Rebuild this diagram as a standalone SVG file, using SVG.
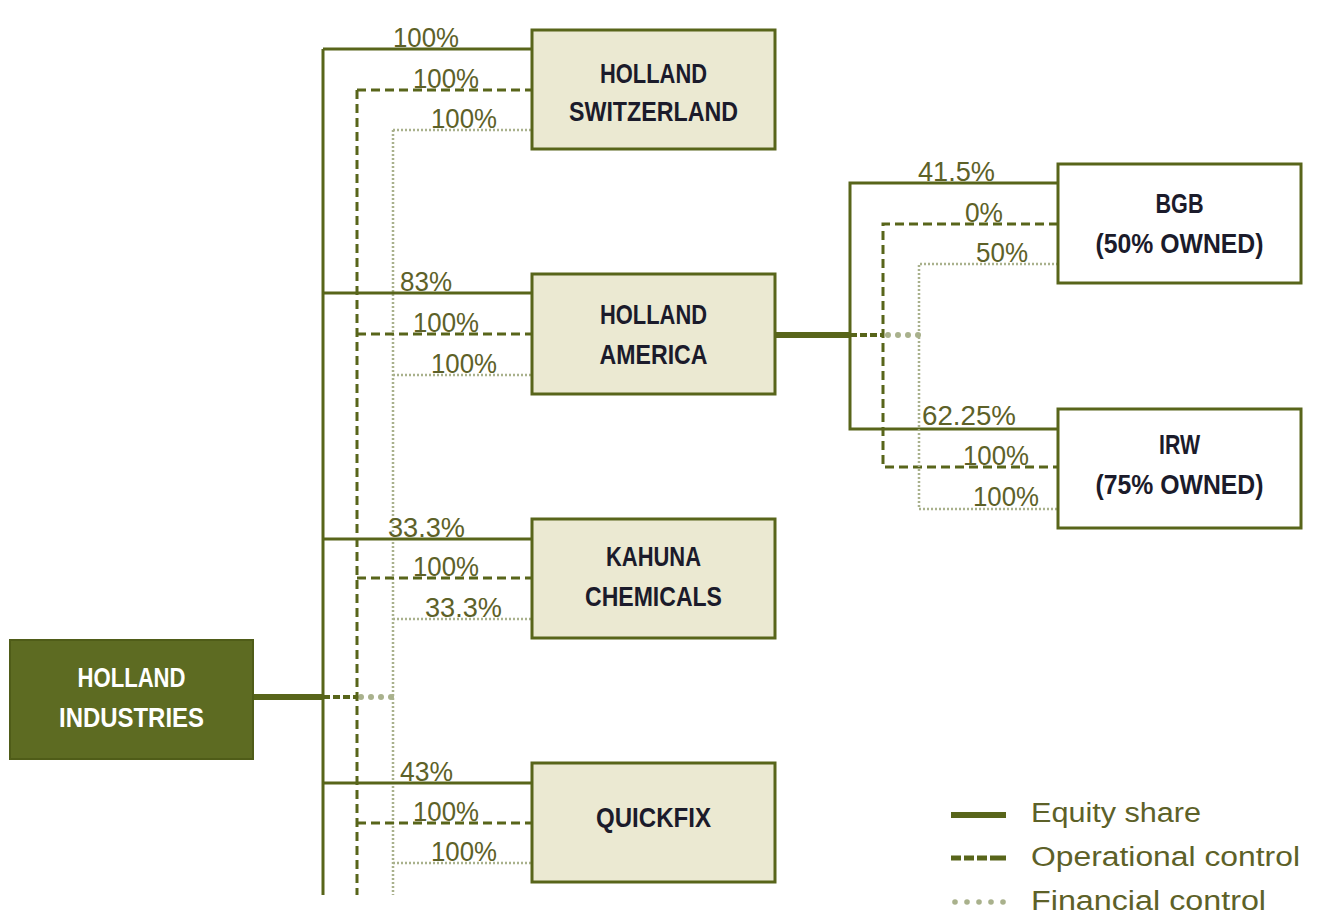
<svg xmlns="http://www.w3.org/2000/svg" width="1322" height="917" viewBox="0 0 1322 917">
<style>
.box{fill:#ebe9d2;stroke:#58651a;stroke-width:3}
.wbox{fill:#ffffff;stroke:#58651a;stroke-width:3}
.hi{fill:#5d6b22;stroke:#4f5c18;stroke-width:2}
.eq{fill:none;stroke:#58651a;stroke-width:3}
.op{fill:none;stroke:#58651a;stroke-width:3;stroke-dasharray:9 5}
.fin{fill:none;stroke:#a9b18c;stroke-width:2.5;stroke-dasharray:2 2}
.thick{fill:none;stroke:#58651a;stroke-width:6}
.thickop{fill:none;stroke:#58651a;stroke-width:4;stroke-dasharray:7 3}
.dot{fill:#a9b18c}
.nt{font-family:"Liberation Sans",Arial,sans-serif;font-weight:bold;font-size:28px;fill:#1b1b2b;text-anchor:middle}
.nw{font-family:"Liberation Sans",Arial,sans-serif;font-weight:bold;font-size:28px;fill:#ffffff;text-anchor:middle}
.pc{font-family:"Liberation Sans",Arial,sans-serif;font-size:27px;fill:#5d6128}
.lg{font-family:"Liberation Sans",Arial,sans-serif;font-size:27px;fill:#5d6128}
</style>
<rect x="0" y="0" width="1322" height="917" fill="#ffffff"/>

<g id="connectors">
  <!-- from Holland Industries -->
  <line class="thick" x1="254" y1="697" x2="323" y2="697"/>
  <line class="thickop" x1="323" y1="697" x2="357" y2="697"/>
  <circle class="dot" cx="361" cy="697" r="3"/>
  <circle class="dot" cx="371" cy="697" r="3"/>
  <circle class="dot" cx="381" cy="697" r="3"/>
  <circle class="dot" cx="391" cy="697" r="3"/>
  <line class="eq" x1="323" y1="49" x2="323" y2="895"/>
  <line class="op" x1="357" y1="90" x2="357" y2="895"/>
  <line class="fin" x1="393" y1="130" x2="393" y2="895"/>
  <!-- Holland Switzerland -->
  <polyline class="eq" points="323,49 532,49"/>
  <polyline class="op" points="357,90 532,90"/>
  <polyline class="fin" points="393,130 532,130"/>
  <!-- Holland America -->
  <polyline class="eq" points="323,293 532,293"/>
  <polyline class="op" points="357,334 532,334"/>
  <polyline class="fin" points="393,375 532,375"/>
  <!-- Kahuna Chemicals -->
  <polyline class="eq" points="323,539 532,539"/>
  <polyline class="op" points="357,578 532,578"/>
  <polyline class="fin" points="393,619 532,619"/>
  <!-- Quickfix -->
  <polyline class="eq" points="323,783 532,783"/>
  <polyline class="op" points="357,823 532,823"/>
  <polyline class="fin" points="393,863 532,863"/>

  <!-- from Holland America -->
  <line class="thick" x1="775" y1="335" x2="850" y2="335"/>
  <line class="thickop" x1="850" y1="335" x2="883" y2="335"/>
  <circle class="dot" cx="888" cy="335" r="3"/>
  <circle class="dot" cx="898" cy="335" r="3"/>
  <circle class="dot" cx="908" cy="335" r="3"/>
  <circle class="dot" cx="918" cy="335" r="3"/>
  <polyline class="eq" points="1058,183 850,183 850,429 1058,429"/>
  <polyline class="op" points="1058,224 883,224 883,467 1058,467"/>
  <polyline class="fin" points="1058,264 919,264 919,509 1058,509"/>

  <!-- percentage labels -->
  <text class="pc" x="393" y="47" textLength="66" lengthAdjust="spacingAndGlyphs">100%</text>
  <text class="pc" x="413" y="88" textLength="66" lengthAdjust="spacingAndGlyphs">100%</text>
  <text class="pc" x="431" y="128" textLength="66" lengthAdjust="spacingAndGlyphs">100%</text>

  <text class="pc" x="400" y="291" textLength="52" lengthAdjust="spacingAndGlyphs">83%</text>
  <text class="pc" x="413" y="332" textLength="66" lengthAdjust="spacingAndGlyphs">100%</text>
  <text class="pc" x="431" y="373" textLength="66" lengthAdjust="spacingAndGlyphs">100%</text>

  <text class="pc" x="388" y="537" textLength="77" lengthAdjust="spacingAndGlyphs">33.3%</text>
  <text class="pc" x="413" y="576" textLength="66" lengthAdjust="spacingAndGlyphs">100%</text>
  <text class="pc" x="425" y="617" textLength="77" lengthAdjust="spacingAndGlyphs">33.3%</text>

  <text class="pc" x="400" y="781" textLength="53" lengthAdjust="spacingAndGlyphs">43%</text>
  <text class="pc" x="413" y="821" textLength="66" lengthAdjust="spacingAndGlyphs">100%</text>
  <text class="pc" x="431" y="861" textLength="66" lengthAdjust="spacingAndGlyphs">100%</text>

  <text class="pc" x="918" y="181" textLength="77" lengthAdjust="spacingAndGlyphs">41.5%</text>
  <text class="pc" x="965" y="222" textLength="38" lengthAdjust="spacingAndGlyphs">0%</text>
  <text class="pc" x="976" y="262" textLength="52" lengthAdjust="spacingAndGlyphs">50%</text>

  <text class="pc" x="922" y="425" textLength="94" lengthAdjust="spacingAndGlyphs">62.25%</text>
  <text class="pc" x="963" y="465" textLength="66" lengthAdjust="spacingAndGlyphs">100%</text>
  <text class="pc" x="973" y="506" textLength="66" lengthAdjust="spacingAndGlyphs">100%</text>
</g>

<g id="holland-industries">
  <rect class="hi" x="10" y="640" width="243" height="119"/>
  <text class="nw" x="131.5" y="687" textLength="108" lengthAdjust="spacingAndGlyphs">HOLLAND</text>
  <text class="nw" x="131.5" y="727" textLength="145" lengthAdjust="spacingAndGlyphs">INDUSTRIES</text>
</g>

<g id="holland-switzerland">
  <rect class="box" x="532" y="30" width="243" height="119"/>
  <text class="nt" x="653.5" y="83" textLength="107" lengthAdjust="spacingAndGlyphs">HOLLAND</text>
  <text class="nt" x="653.5" y="121" textLength="169" lengthAdjust="spacingAndGlyphs">SWITZERLAND</text>
</g>

<g id="holland-america">
  <rect class="box" x="532" y="274" width="243" height="120"/>
  <text class="nt" x="653.5" y="324" textLength="107" lengthAdjust="spacingAndGlyphs">HOLLAND</text>
  <text class="nt" x="653.5" y="364" textLength="108" lengthAdjust="spacingAndGlyphs">AMERICA</text>
</g>

<g id="kahuna-chemicals">
  <rect class="box" x="532" y="519" width="243" height="119"/>
  <text class="nt" x="653.5" y="566" textLength="95" lengthAdjust="spacingAndGlyphs">KAHUNA</text>
  <text class="nt" x="653.5" y="606" textLength="137" lengthAdjust="spacingAndGlyphs">CHEMICALS</text>
</g>

<g id="quickfix">
  <rect class="box" x="532" y="763" width="243" height="119"/>
  <text class="nt" x="653.5" y="827" textLength="115" lengthAdjust="spacingAndGlyphs">QUICKFIX</text>
</g>

<g id="bgb">
  <rect class="wbox" x="1058" y="164" width="243" height="119"/>
  <text class="nt" x="1179.5" y="213" textLength="48" lengthAdjust="spacingAndGlyphs">BGB</text>
  <text class="nt" x="1179.5" y="253" textLength="168" lengthAdjust="spacingAndGlyphs">(50% OWNED)</text>
</g>

<g id="irw">
  <rect class="wbox" x="1058" y="409" width="243" height="119"/>
  <text class="nt" x="1179.5" y="454" textLength="41" lengthAdjust="spacingAndGlyphs">IRW</text>
  <text class="nt" x="1179.5" y="494" textLength="168" lengthAdjust="spacingAndGlyphs">(75% OWNED)</text>
</g>

<g id="legend">
  <line x1="951" y1="815" x2="1006" y2="815" stroke="#58651a" stroke-width="6"/>
  <line x1="951" y1="858" x2="1006" y2="858" stroke="#58651a" stroke-width="5" stroke-dasharray="10 3 10 3 10 3 16 0"/>
  <circle class="dot" cx="955" cy="902" r="2.8"/>
  <circle class="dot" cx="967" cy="902" r="2.8"/>
  <circle class="dot" cx="979" cy="902" r="2.8"/>
  <circle class="dot" cx="991" cy="902" r="2.8"/>
  <circle class="dot" cx="1003" cy="902" r="2.8"/>
  <text class="lg" x="1031" y="822" textLength="170" lengthAdjust="spacingAndGlyphs">Equity share</text>
  <text class="lg" x="1031" y="866" textLength="269" lengthAdjust="spacingAndGlyphs">Operational control</text>
  <text class="lg" x="1031" y="910" textLength="235" lengthAdjust="spacingAndGlyphs">Financial control</text>
</g>
</svg>
